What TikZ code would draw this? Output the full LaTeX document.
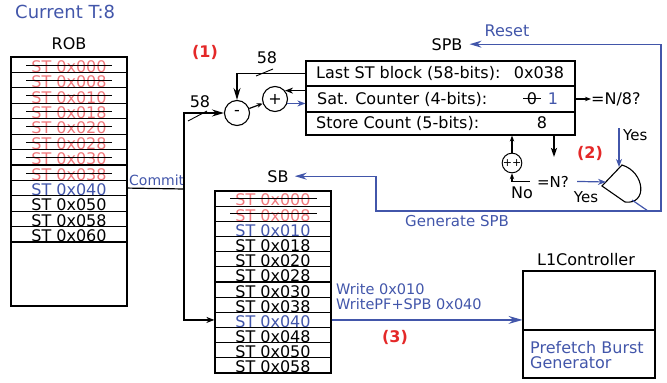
\documentclass[tikz,border=0pt]{standalone}
\usepackage{fontspec}
\setmainfont{DejaVu Sans}
\usetikzlibrary{arrows.meta,calc}
\definecolor{myblue}{RGB}{66,86,170}
\definecolor{lred}{RGB}{240,120,124}
\definecolor{bred}{RGB}{228,40,40}
\begin{document}
\begin{tikzpicture}[x=1pt,y=-1pt,
  every node/.style={font=\fontsize{16}{18}\selectfont, inner sep=0pt},
  ln/.style={line width=1.2pt},
  bl/.style={line width=1.2pt, draw=myblue},
  robcell/.style={draw, line width=1.2pt, minimum width=116pt, minimum height=15.42pt, text height=15pt, text depth=0pt},
  sbcell/.style={draw, line width=1.2pt, minimum width=116pt, minimum height=15.17pt, text height=14.8pt, text depth=0pt},
  spbcell/.style={draw, line width=1.2pt, minimum width=269pt},
  strike/.style={line width=0.8pt},
  op/.style={circle, draw, line width=1.1pt, minimum size=25pt},
  big/.style={-{Stealth[length=12pt,width=7pt,inset=4pt]}},
  mid/.style={-{Stealth[length=8pt,width=6pt,inset=2.5pt]}},
  sml/.style={-{Stealth[length=6pt,width=4.5pt,inset=2pt]}},
  redlbl/.style={text=bred, font=\fontsize{16}{18}\selectfont\bfseries},
  small/.style={font=\fontsize{14}{16}\selectfont},
  mlbl/.style={font=\fontsize{15}{17}\selectfont},
]
\useasboundingbox (0,0) rectangle (667,383);

% title
\node[anchor=base west, text=myblue, font=\fontsize{18}{20}\selectfont] (title) at (15,18) {Current T:8};

% ROB
\node[anchor=base] (roblbl) at (69,49) {ROB};
\foreach \t/\c [count=\i] in {000/lred,008/lred,010/lred,018/lred,020/lred,028/lred,030/lred,038/lred,040/myblue,050/black,058/black,060/black}
  \node[robcell,text=\c] (rob\i) at (69,{57+15.42*(\i-0.5)}) {ST 0x\t};
\node[draw, line width=1.2pt, minimum width=116pt, minimum height=64pt] (robrest) at (69,274) {};
\foreach \i in {1,...,8}
  \draw[strike] ([xshift=16pt,yshift=-0.3pt]rob\i.west) -- ([xshift=-16pt,yshift=-0.3pt]rob\i.east);

% SB
\node[anchor=base] (sblbl) at (278,182) {SB};
\foreach \t/\c [count=\i] in {000/lred,008/lred,010/myblue,018/black,020/black,028/black,030/black,038/black,040/myblue,048/black,050/black,058/black}
  \node[sbcell,text=\c] (sb\i) at (273,{191+15.17*(\i-0.5)}) {ST 0x\t};
\foreach \i in {1,2}
  \draw[strike] ([xshift=16pt,yshift=0.5pt]sb\i.west) -- ([xshift=-15pt,yshift=0.5pt]sb\i.east);

% SPB
\node[anchor=base] (spblbl) at (447,50) {SPB};
\node[spbcell, minimum height=25pt] (spb1) at (440.5,73.5) {};
\node[spbcell, minimum height=26pt] (spb2) at (440.5,99) {};
\node[spbcell, minimum height=23pt] (spb3) at (440.5,123.5) {};
\node[anchor=base west] (t1) at (316,78.5) {Last ST block (58-bits):};
\node[anchor=base] (v1) at (539,78.5) {0x038};
\node[anchor=base west] (t2) at (317,104.5) {Sat. Counter (4-bits):};
\node[anchor=base] (v2a) at (532,104.5) {0};
\draw[strike] ([xshift=-9pt]v2a.center) -- ([xshift=9pt]v2a.center);
\node[anchor=base, text=myblue] (v2b) at (553,104.5) {1};
\node[anchor=base west] (t3) at (316,128.5) {Store Count (5-bits):};
\node[anchor=base] (v3) at (542,128.5) {8};

% operators
\node[op] (minus) at (237,113) {-};
\node[op] (plus) at (275,99) {+};
\node[redlbl] (lab1) at (205,52) {(1)};

% commit path
\coordinate (jc) at (184,189);
\draw[ln] (rob9.east) -- (jc);
\node[anchor=base west, small, text=myblue] (commit) at (129,185) {Commit};
\draw[ln, big] (jc) |- (minus.west);
\draw[ln, mid] (jc) |- (sb9.west);
\draw[line width=0.9pt] (188,121) -- (207,111);
\node[anchor=base] (w58a) at (200,107) {58};

% last ST block feedback
\draw[ln, big] (spb1.west) -| (minus.north);
\draw[line width=0.9pt] (256,76) -- (273,69);
\node[anchor=base] (w58b) at (267,63) {58};

\draw[ln, sml] (minus) -- (plus);
\draw[ln, mid] (plus.40 -| spb2.west) -- (plus.40);
\draw[bl, mid] (plus.-20) -- (plus.-20 -| spb2.west);

% =N/8?
\node[anchor=west] (n8) at (591,99) {=N/8?};
\draw[ln, sml] (spb2.east) -- (n8.west);
\node[anchor=base west, mlbl] (yes1) at (623,140) {Yes};
\coordinate (yesst) at (619,128);
\coordinate (gin1) at (619,167);
\draw[bl, mid] (yesst) -- (gin1);

% gate
\coordinate (gA) at (622,165);
\coordinate (gB) at (602,186);
\coordinate (gC) at (625,202);
\draw[line width=1.1pt] (gB) -- (gA) .. controls (645,172) and (648,205) .. (gC) -- cycle;
\coordinate (gout) at (632,200);
\coordinate (j1) at (648,211);
\draw[bl] (gout) -- (j1);
\node[redlbl] (lab2) at (590,153) {(2)};

% =N? and ++
\node[anchor=base, mlbl] (neq) at (553,187) {=N?};
\coordinate (gin2) at (606,182);
\draw[bl, mid] ([xshift=8pt]neq.east) -- (gin2);
\node[anchor=base, mlbl] (yes2) at (586,202) {Yes};
\node[anchor=base] (no) at (522,198) {No};
\node[circle, draw, line width=1pt, minimum size=19pt, font=\fontsize{11}{12}\selectfont] (pp) at (512,163) {++};
\draw[ln, sml] ([xshift=-7pt]neq.west) -| (pp.south);
\draw[ln, sml] (pp.north) -- (pp.north |- spb3.south);
\coordinate (dnend) at (554,157);
\draw[line width=1.8pt, -{Stealth[length=9pt,width=6pt,inset=2pt]}] (spb3.south -| dnend) -- (dnend);

% blue loop
\coordinate (rc) at (661,211);
\coordinate (lc) at (376,211);
\draw[bl, big] (j1) -- (rc) |- ([xshift=7pt]spblbl.east);
\draw[bl, big] (j1) -- (lc) |- ([xshift=6pt]sblbl.east);
\node[anchor=base, text=myblue] (reset) at (507,36) {Reset};
\node[anchor=base west, mlbl, text=myblue] (gen) at (405,226) {Generate SPB};

% L1
\node[anchor=base] (l1lbl) at (586,265) {L1Controller};
\node[draw, line width=1.1pt, minimum width=132pt, minimum height=59pt] (l1top) at (589,300.5) {};
\node[draw, line width=1.1pt, minimum width=132pt, minimum height=48pt] (l1bot) at (589,354) {};
\node[anchor=base west, text=myblue] (pbg1) at (530,353) {Prefetch Burst};
\node[anchor=base west, text=myblue] (pbg2) at (530,368) {Generator};
\draw[bl, -{Stealth[length=14pt,width=8pt,inset=5pt]}] (sb9.east) -- (sb9.east -| l1top.west);
\node[anchor=base west, font=\fontsize{14.5}{16}\selectfont, text=myblue] (w1) at (336,294) {Write 0x010};
\node[anchor=base west, font=\fontsize{14.5}{16}\selectfont, text=myblue] (w2) at (336,309) {WritePF+SPB 0x040};
\node[redlbl] (lab3) at (395,337) {(3)};
\end{tikzpicture}
\end{document}
